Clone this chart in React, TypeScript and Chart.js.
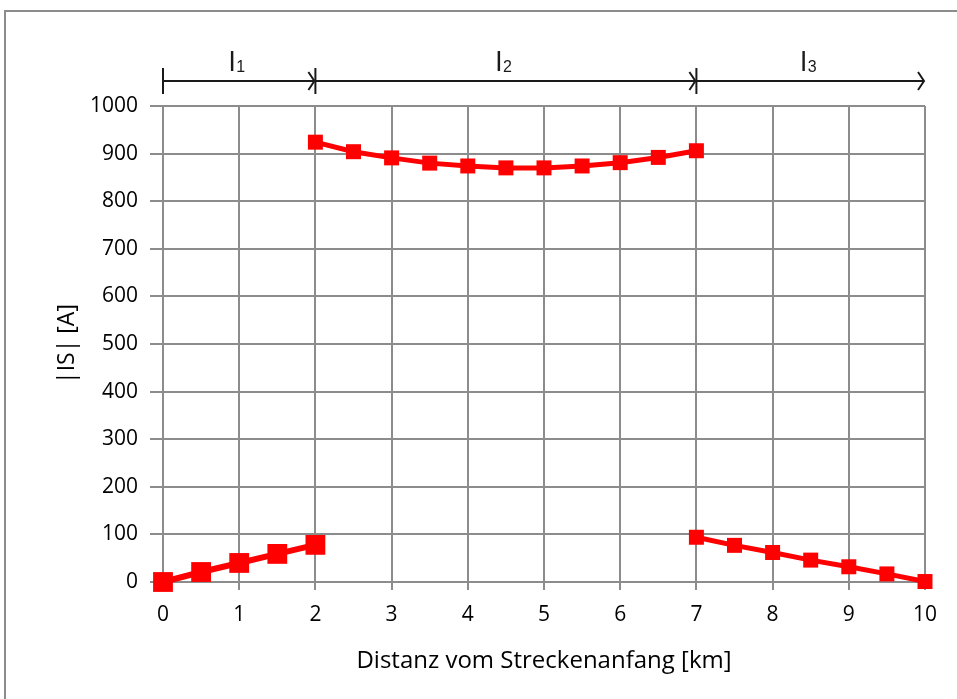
import React, { useEffect, useRef } from "react";
import { Chart, registerables } from "chart.js";

Chart.register(...registerables);

// Segment 1 (l1): 0 .. 2 km
const seg1X = [0, 0.5, 1, 1.5, 2];
const seg1Y = [0, 21, 40, 59, 78];
// Segment 2 (l2): 2 .. 7 km
const seg2X = [2, 2.5, 3, 3.5, 4, 4.5, 5, 5.5, 6, 6.5, 7];
const seg2Y = [924, 904, 891, 880, 874, 870, 870, 874, 881, 892, 906];
// Segment 3 (l3): 7 .. 10 km
const seg3X = [7, 7.5, 8, 8.5, 9, 9.5, 10];
const seg3Y = [94, 77, 62, 46, 32, 17, 1];

const sectionBounds = [0, 2, 7, 10];
const sectionLetters = ["l", "l", "l"];
const sectionSubs = ["1", "2", "3"];

const xTitle = "Distanz vom Streckenanfang [km]";
const yTitle = "|IS| [A]";

const FONT = "'Open Sans', 'Liberation Sans', sans-serif";
const RED = "#ff0000";
const GRID = "#8c8c8c";

const toPoints = (xs: number[], ys: number[]) => xs.map((x, i) => ({ x, y: ys[i] }));

const sectionPlugin = {
  id: "sections",
  afterDraw(chart: any) {
    const { ctx } = chart;
    const xs = chart.scales.x;
    const yLine = 81;
    ctx.save();
    ctx.strokeStyle = "#1a1a1a";
    ctx.fillStyle = "#1a1a1a";
    ctx.lineWidth = 2;
    for (let i = 0; i < sectionLetters.length; i++) {
      const x0 = xs.getPixelForValue(sectionBounds[i]);
      const x1 = xs.getPixelForValue(sectionBounds[i + 1]);
      ctx.beginPath();
      ctx.moveTo(x0, 68);
      ctx.lineTo(x0, 94);
      ctx.stroke();
      ctx.beginPath();
      ctx.moveTo(x0, yLine);
      ctx.lineTo(x1 - 1, yLine);
      ctx.stroke();
      ctx.beginPath();
      ctx.moveTo(x1 - 7, yLine - 9);
      ctx.lineTo(x1 - 1, yLine);
      ctx.lineTo(x1 - 7, yLine + 9);
      ctx.stroke();
      const cx = (x0 + x1) / 2 - 4;
      ctx.textBaseline = "alphabetic";
      ctx.textAlign = "right";
      ctx.font = "28px 'Liberation Sans Narrow', 'Liberation Sans', sans-serif";
      ctx.fillText(sectionLetters[i], cx, 71);
      ctx.textAlign = "left";
      ctx.font = "16px 'Liberation Sans Narrow', 'Liberation Sans', sans-serif";
      ctx.fillText(sectionSubs[i], cx + 1, 72);
    }
    ctx.restore();
  },
};

export default function App() {
  const ref = useRef<HTMLCanvasElement | null>(null);
  useEffect(() => {
    if (!ref.current) return;
    const chart = new Chart(ref.current, {
      type: "scatter",
      data: {
        datasets: [
          {
            data: toPoints(seg1X, seg1Y),
            showLine: true,
            clip: false,
            borderColor: RED,
            backgroundColor: RED,
            borderWidth: 6,
            pointStyle: "rect",
            pointRadius: 14,
            pointBorderWidth: 0,
          },
          {
            data: toPoints(seg2X, seg2Y),
            showLine: true,
            clip: false,
            borderColor: RED,
            backgroundColor: RED,
            borderWidth: 5,
            pointStyle: "rect",
            pointRadius: 10.6,
            pointBorderWidth: 0,
          },
          {
            data: toPoints(seg3X, seg3Y),
            showLine: true,
            clip: false,
            borderColor: RED,
            backgroundColor: RED,
            borderWidth: 5,
            pointStyle: "rect",
            pointRadius: 10.6,
            pointBorderWidth: 0,
          },
        ],
      },
      options: {
        animation: false,
        responsive: false,
        maintainAspectRatio: false,
        layout: { padding: { top: 106, right: 32, left: 0, bottom: 0 } },
        plugins: {
          legend: { display: false },
          tooltip: { enabled: false },
        },
        scales: {
          x: {
            type: "linear",
            min: 0,
            max: 10,
            afterFit: (s: any) => {
              s.height = 117;
            },
            ticks: {
              stepSize: 1,
              color: "#000",
              padding: 12,
              font: { family: FONT, size: 21 },
              callback: (v: any) => String(v),
            },
            grid: { color: GRID, lineWidth: 2, tickLength: 8 },
            border: { color: GRID, width: 2 },
            title: {
              display: true,
              text: xTitle,
              color: "#000",
              font: { family: FONT, size: 24 },
              padding: { top: 0, bottom: 23 },
            },
          },
          y: {
            type: "linear",
            min: 0,
            max: 1000,
            afterFit: (s: any) => {
              s.width = 163;
            },
            ticks: {
              stepSize: 100,
              color: "#000",
              padding: 12,
              font: { family: FONT, size: 21 },
              callback: (v: any) => String(v),
            },
            grid: { color: GRID, lineWidth: 2, tickLength: 13 },
            border: { color: GRID, width: 2 },
            title: {
              display: true,
              text: yTitle,
              color: "#000",
              font: { family: FONT, size: 23 },
              padding: { top: 54, bottom: 0 },
            },
          },
        },
      },
      plugins: [sectionPlugin],
    } as any);
    return () => chart.destroy();
  }, []);

  return (
    <div
      style={{
        position: "fixed",
        left: 0,
        top: 0,
        width: 957,
        height: 699,
        overflow: "hidden",
        background: "#fff",
      }}
    >
      <div
        style={{
          position: "absolute",
          left: 4,
          top: 10,
          width: 1000,
          height: 1000,
          border: "2px solid #8c8c8c",
          boxSizing: "border-box",
        }}
      />
      <canvas
        ref={ref}
        width={957}
        height={699}
        style={{ position: "absolute", left: 0, top: 0, width: 957, height: 699 }}
      />
    </div>
  );
}
